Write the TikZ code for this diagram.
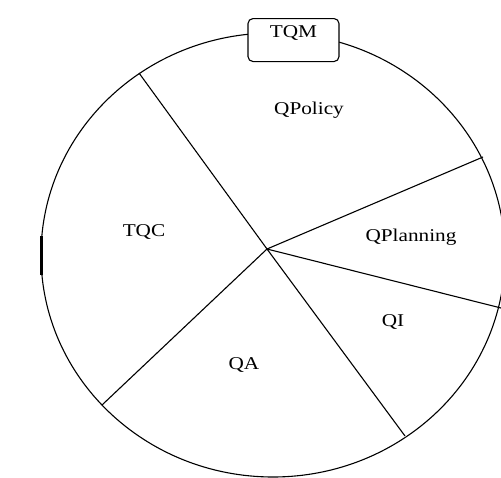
\documentclass[tikz,border=0pt]{standalone}
\usepackage{fontspec}
\setmainfont{Liberation Serif}[FakeStretch=1.18]
\begin{document}
\begin{tikzpicture}[x=1pt, y=-1pt, line width=1.1pt, font=\fontsize{18}{21}\selectfont]
    \clip (0,0) rectangle (501,477);
    \coordinate (o) at (267, 249);
    \coordinate (e1) at (139, 73);
    \coordinate (e2) at (483, 157);
    \coordinate (e3) at (501, 308);
    \coordinate (e4) at (405, 436);
    \coordinate (e5) at (102, 405);
    \draw (273, 255) ellipse [x radius=232pt, y radius=222pt];
    \draw[line width=3pt] (41.5, 236) -- (41.5, 275);
    \draw (o) -- (e1);
    \draw (o) -- (e2);
    \draw (o) -- (e3);
    \draw (o) -- (e4);
    \draw (o) -- (e5);
    \node[draw, fill=white, rounded corners=5pt, anchor=north, minimum width=91pt,
          inner ysep=4pt, text height=15pt, text depth=20pt] (v0) at (293.5, 18) {TQM};
    \node (v1) at (309, 110) {QPolicy};
    \node (v2) at (411, 237) {QPlanning};
    \node (v3) at (393, 322) {QI};
    \node (v4) at (244, 365) {QA};
    \node (v5) at (144, 232) {TQC};
\end{tikzpicture}
\end{document}
